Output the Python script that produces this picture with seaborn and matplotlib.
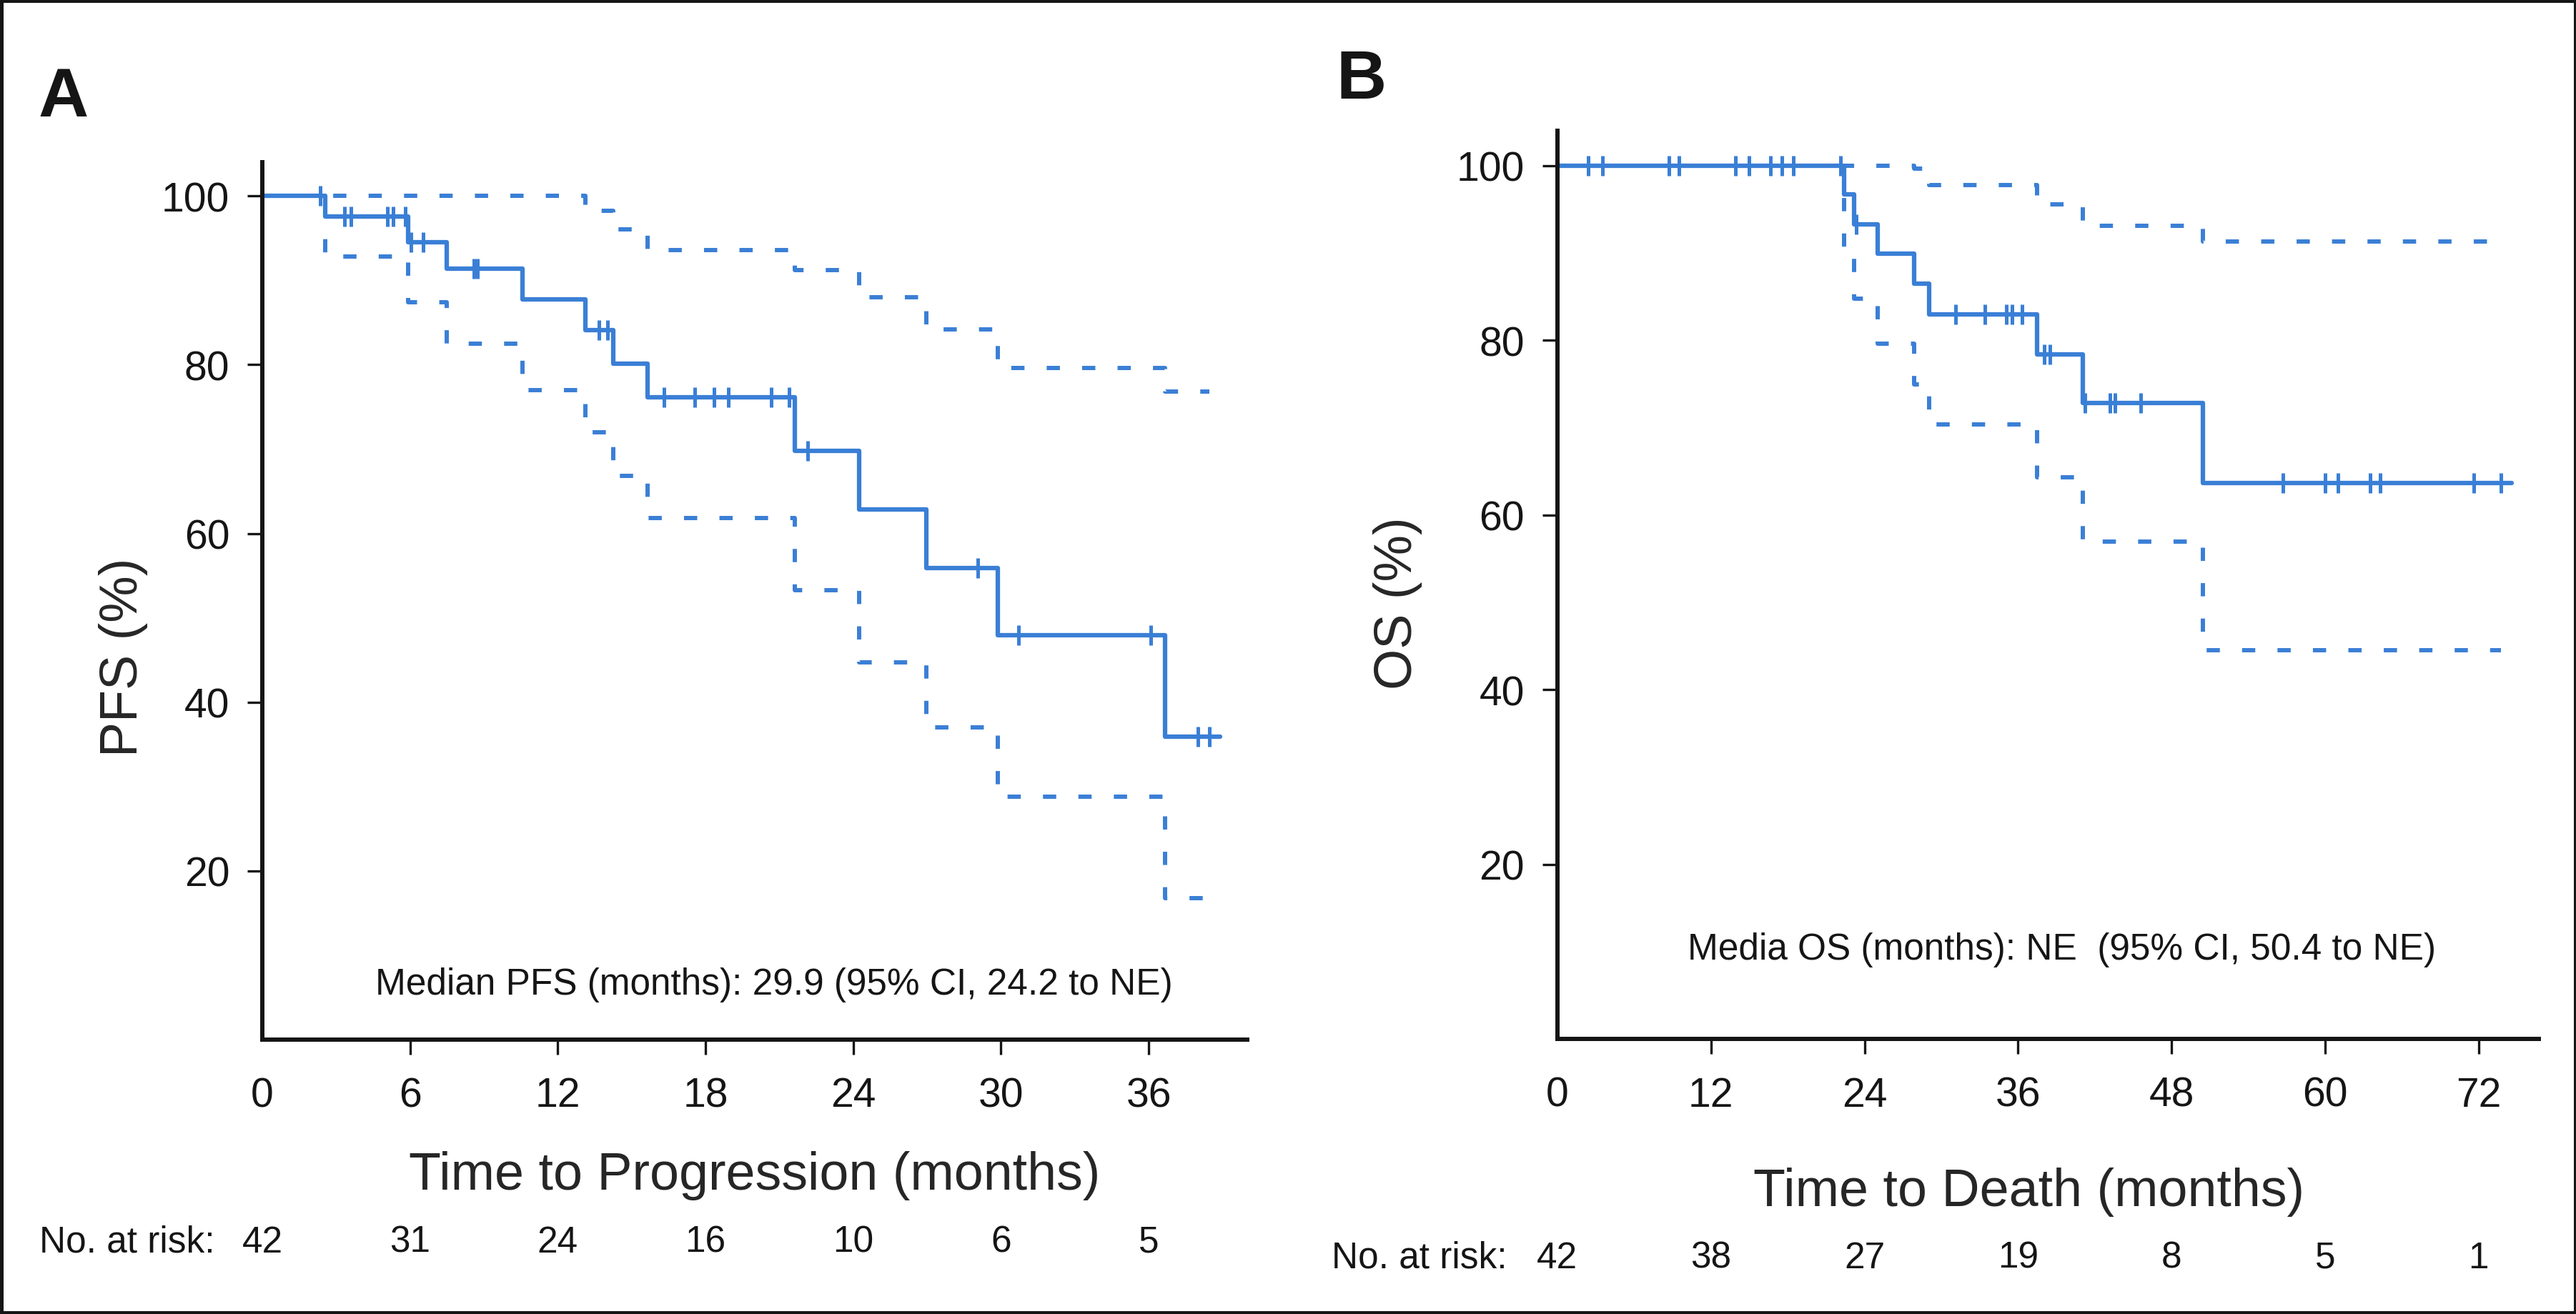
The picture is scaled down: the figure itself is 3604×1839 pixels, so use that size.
import numpy as np
import matplotlib
matplotlib.use("Agg")
import matplotlib.pyplot as plt
from matplotlib import font_manager
from matplotlib.patches import Rectangle
import seaborn as sns

# Panel A - progression-free survival (step times in months, values in %)
pfs_times = [0, 2.55, 5.93, 7.50, 10.58, 13.13, 14.26, 15.66, 21.63, 24.25, 26.98, 29.86, 36.67]
pfs_surv = [100, 97.6, 94.5, 91.4, 87.7, 84.1, 80.1, 76.1, 69.8, 62.8, 55.9, 47.9, 35.9]
pfs_upper = [100, 100, 100, 100, 100, 98.2, 96.0, 93.6, 91.2, 88.0, 84.2, 79.6, 76.8]
pfs_lower = [100, 92.8, 87.4, 82.5, 77.0, 72.0, 66.8, 61.8, 53.3, 44.7, 37.0, 28.8, 16.8]
pfs_censored = [2.35, 3.35, 3.60, 5.08, 5.31, 5.81, 6.05, 6.52, 8.60, 8.75, 13.66, 14.01,
                16.32, 17.57, 18.34, 18.94, 20.68, 21.40, 22.16, 29.07, 30.72, 36.10,
                38.00, 38.46]
pfs_end = 38.9
pfs_ticks = [0, 6, 12, 18, 24, 30, 36]
pfs_at_risk = [42, 31, 24, 16, 10, 6, 5]

# Panel B - overall survival
os_times = [0, 22.4, 23.2, 25.03, 27.88, 29.05, 37.51, 41.05, 50.43]
os_surv = [100, 96.7, 93.3, 89.9, 86.5, 83.0, 78.4, 72.8, 63.7]
os_upper = [100, 100, 100, 100, 99.7, 97.8, 95.6, 93.1, 91.3]
os_lower = [100, 89.5, 84.8, 79.6, 75.0, 70.4, 64.3, 57.0, 44.5]
os_censored = [2.40, 3.51, 8.70, 9.50, 13.91, 14.99, 16.65, 17.56, 18.42, 22.12, 23.35,
               31.12, 33.41, 35.06, 35.55, 36.29, 38.03, 38.49, 41.25, 43.16, 43.59,
               45.61, 56.73, 59.98, 61.00, 63.54, 64.28, 71.60, 73.74]
os_end = 74.6
os_ticks = [0, 12, 24, 36, 48, 60, 72]
os_at_risk = [42, 38, 27, 19, 8, 5, 1]

y_ticks = [20, 40, 60, 80, 100]

BLUE = "#3A7FD6"
INK = "#151515"

sns.set_style("ticks")
names = {f.name for f in font_manager.fontManager.ttflist}
base_font = "Liberation Sans" if "Liberation Sans" in names else "DejaVu Sans"
if "Liberation Sans Narrow" in names:
    label_font, label_size = "Liberation Sans Narrow", 60
else:
    label_font, label_size = base_font, 53
plt.rcParams["font.family"] = [base_font, "DejaVu Sans"]
plt.rcParams["text.color"] = INK


def step_xy(times, values, end):
    # extend the last step to the end of follow-up
    return list(times) + [end], list(values) + [values[-1]]


def draw_km(ax, times, surv, lower, upper, censored, end, xmax, ticks):
    x, y = step_xy(times, surv, end)
    sns.lineplot(x=x, y=y, ax=ax, color=BLUE, linewidth=4.5, drawstyle="steps-post",
                 estimator=None, sort=False)
    for band in (upper, lower):
        bx, by = step_xy(times, band, censored[-1])
        sns.lineplot(x=bx, y=by, ax=ax, color=BLUE, linewidth=4.3, drawstyle="steps-post",
                     estimator=None, sort=False, linestyle=(0, (3.1, 5.2)))
    # censor marks sit on the curve
    idx = np.searchsorted(times, censored, side="right") - 1
    cy = np.asarray(surv)[idx]
    sns.scatterplot(x=censored, y=cy, ax=ax, marker="|", s=400, linewidth=3.6,
                    color=BLUE, zorder=3, clip_on=False)

    ax.set_xlim(0, xmax)
    ax.set_ylim(0, 104)
    ax.set_xticks(ticks)
    ax.set_yticks(y_ticks)
    sns.despine(ax=ax)
    for side in ("left", "bottom"):
        ax.spines[side].set_linewidth(4.3)
        ax.spines[side].set_color(INK)
    ax.tick_params(length=15, width=2.4, color=INK, labelsize=41, labelcolor=INK)
    ax.tick_params(axis="x", pad=22)
    ax.tick_params(axis="y", pad=18)
    ax.xaxis.get_major_ticks()[0].tick1line.set_visible(False)


fig = plt.figure(figsize=(36.05, 18.4), dpi=100)
ax_a = fig.add_axes([0.1018, 0.2087, 0.3822, 0.6674])
ax_b = fig.add_axes([0.6044, 0.2090, 0.3809, 0.6910])

draw_km(ax_a, pfs_times, pfs_surv, pfs_lower, pfs_upper, pfs_censored, pfs_end, 40, pfs_ticks)
draw_km(ax_b, os_times, os_surv, os_lower, os_upper, os_censored, os_end, 76.7, os_ticks)

# axis labels
ax_a.set_xlabel("Time to Progression (months)", fontsize=label_size, family=label_font, va="baseline")
ax_a.xaxis.set_label_coords(0.5, -0.170)
ax_a.set_ylabel("PFS (%)", fontsize=label_size, family=label_font, va="center")
ax_a.yaxis.set_label_coords(-0.1415, 0.4365)

ax_b.set_xlabel("Time to Death (months)", fontsize=label_size, family=label_font, va="baseline")
ax_b.xaxis.set_label_coords(0.4807, -0.183)
ax_b.set_ylabel("OS (%)", fontsize=label_size, family=label_font, va="center")
ax_b.yaxis.set_label_coords(-0.163, 0.481)

# median annotations
ax_a.text(4.59, 5.45, "Median PFS (months): 29.9 (95% CI, 24.2 to NE)", fontsize=37, va="baseline")
ax_b.text(10.17, 9.2, "Media OS (months): NE  (95% CI, 50.4 to NE)", fontsize=37, va="baseline")

# numbers at risk
for ax, ticks, counts, yy in ((ax_a, pfs_ticks, pfs_at_risk, -0.2416),
                              (ax_b, os_ticks, os_at_risk, -0.2513)):
    for t, n in zip(ticks, counts):
        ax.text(t, yy, str(n), transform=ax.get_xaxis_transform(), ha="center",
                va="baseline", fontsize=37)
fig.text(55 / 3605, 1 - 1752.7 / 1840, "No. at risk:", fontsize=37, va="baseline")
fig.text(1863 / 3605, 1 - 1775 / 1840, "No. at risk:", fontsize=37, va="baseline")

# panel letters
fig.text(54 / 3605, 1 - 163.3 / 1840, "A", fontsize=70, fontweight="bold", va="baseline")
fig.text(1870 / 3605, 1 - 138.3 / 1840, "B", fontsize=70, fontweight="bold", va="baseline")

# outer frame
fig.patches.append(Rectangle((0, 0), 1, 1, transform=fig.transFigure, fill=False,
                             linewidth=6.5, edgecolor=INK))

fig.savefig("out.png", dpi=100)
plt.close(fig)
